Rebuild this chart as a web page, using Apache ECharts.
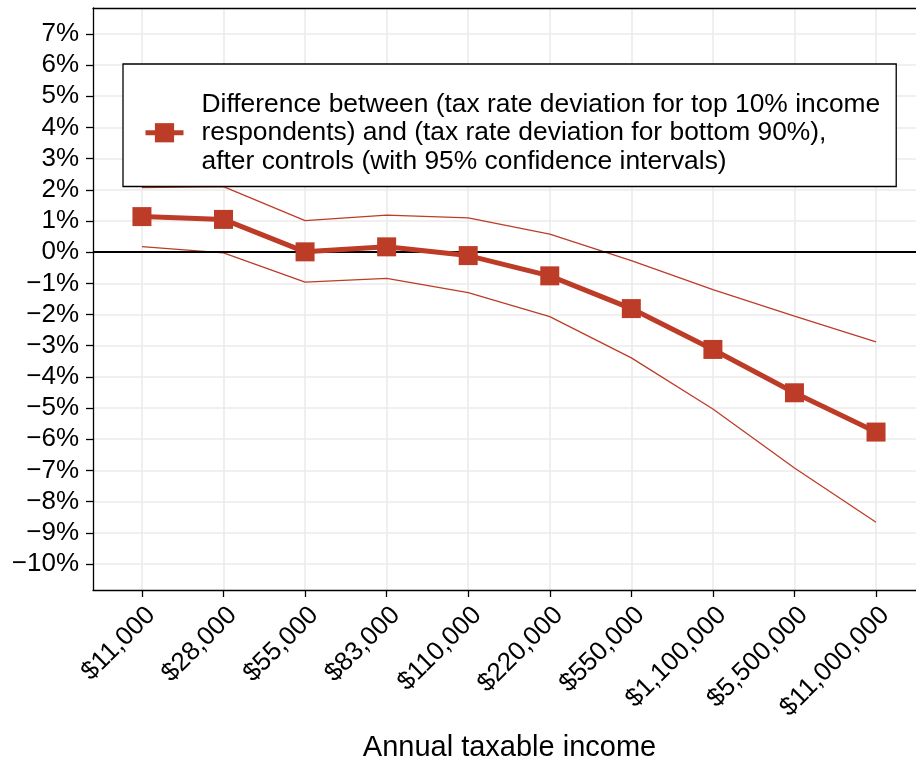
<!DOCTYPE html>
<html>
<head>
<meta charset="utf-8">
<script src="https://cdn.jsdelivr.net/npm/echarts@6/dist/echarts.min.js"></script>
<style>
  html, body { margin: 0; padding: 0; background: #fff; }
  #chart { width: 916px; height: 761px; }
</style>
</head>
<body>
<div id="chart"></div>
<script>
// income brackets on the x axis
const incomes = ['$11,000', '$28,000', '$55,000', '$83,000', '$110,000',
                 '$220,000', '$550,000', '$1,100,000', '$5,500,000', '$11,000,000'];
// difference in tax rate deviation, percent
const diff  = [1.14, 1.05, 0.01, 0.17, -0.11, -0.76, -1.81, -3.12, -4.51, -5.77];
// 95% confidence bounds
const upper = [2.07, 2.10, 1.01, 1.19, 1.10, 0.58, -0.27, -1.20, -2.05, -2.88];
const lower = [0.18, -0.02, -0.96, -0.84, -1.30, -2.07, -3.39, -5.03, -6.92, -8.66];
const yTicks = [-10, -9, -8, -7, -6, -5, -4, -3, -2, -1, 0, 1, 2, 3, 4, 5, 6, 7];

const legendName = 'Difference between (tax rate deviation for top 10% income\n' +
    'respondents) and (tax rate deviation for bottom 90%),\n' +
    'after controls (with 95% confidence intervals)';

const red = '#BD3C27';
const font = '"Liberation Sans", Arial, Helvetica, sans-serif';
const idx = incomes.map((_, i) => i);

const chart = echarts.init(document.getElementById('chart'));

// panel is cut off on the right, so the last band is narrower
const xMin = -0.6, xMax = 9.49;

chart.setOption({
    animation: false,
    backgroundColor: '#fff',
    textStyle: { fontFamily: font },
    grid: { left: 93, right: 0, top: 8, bottom: 171, outerBoundsMode: 'none', containLabel: false },
    legend: {
        data: [legendName],
        left: 123, top: 64,
        orient: 'vertical',
        padding: [26, 16, 11, 20],
        backgroundColor: '#fff',
        borderColor: '#000',
        borderWidth: 1.3,
        borderRadius: 0,
        itemWidth: 38,
        itemHeight: 24,
        lineStyle: { width: 5 },
        selectedMode: false,
        textStyle: {
            fontSize: 26.4, lineHeight: 28.5, color: '#000', fontFamily: font,
            padding: [0, 0, 0, 13]
        }
    },
    xAxis: [{
        type: 'value',
        min: xMin, max: xMax,
        name: 'Annual taxable income',
        nameLocation: 'middle',
        nameGap: 143,
        nameTextStyle: { fontSize: 29, color: '#000', fontFamily: font, padding: [0, 0, 0, 10] },
        axisLine: { show: true, onZero: false, lineStyle: { color: '#000', width: 1.3 } },
        axisTick: { show: true, length: 7, customValues: idx, lineStyle: { color: '#000', width: 1.3 } },
        axisLabel: {
            customValues: idx,
            rotate: 45, margin: 12,
            align: 'right', verticalAlign: 'top',
            fontSize: 26, color: '#000', fontFamily: font,
            formatter: v => incomes[Math.round(v)]
        },
        splitLine: { show: true, lineStyle: { color: '#ebebeb', width: 1.6 } }
    }, {
        // top border of the panel
        type: 'value',
        position: 'top',
        min: xMin, max: xMax,
        axisLine: { show: true, onZero: false, lineStyle: { color: '#000', width: 1.3 } },
        axisTick: { show: false },
        axisLabel: { show: false },
        splitLine: { show: false }
    }],
    yAxis: {
        type: 'value',
        min: -10.835, max: 7.83,
        axisLine: { show: true, onZero: false, lineStyle: { color: '#000', width: 1.3 } },
        axisTick: { show: true, length: 7, customValues: yTicks, lineStyle: { color: '#000', width: 1.3 } },
        axisLabel: {
            customValues: yTicks,
            margin: 14,
            fontSize: 26, color: '#000', fontFamily: font,
            formatter: v => (v < 0 ? '\u2212' + Math.abs(v) : v) + '%'
        },
        splitLine: { show: true, lineStyle: { color: '#ebebeb', width: 1.6 } }
    },
    series: [
        {
            name: 'upper',
            type: 'line',
            data: upper.map((v, i) => [i, v]),
            symbol: 'none',
            lineStyle: { color: red, width: 1.3 },
            z: 3
        },
        {
            name: 'lower',
            type: 'line',
            data: lower.map((v, i) => [i, v]),
            symbol: 'none',
            lineStyle: { color: red, width: 1.3 },
            z: 3,
            markLine: {
                silent: true,
                symbol: 'none',
                label: { show: false },
                lineStyle: { color: '#000', width: 1.8, type: 'solid' },
                data: [{ yAxis: 0 }]
            }
        },
        {
            name: legendName,
            type: 'line',
            data: diff.map((v, i) => [i, v]),
            symbol: 'rect',
            symbolSize: 19,
            itemStyle: { color: red },
            lineStyle: { color: red, width: 5 },
            z: 5
        }
    ]
});
</script>
</body>
</html>
